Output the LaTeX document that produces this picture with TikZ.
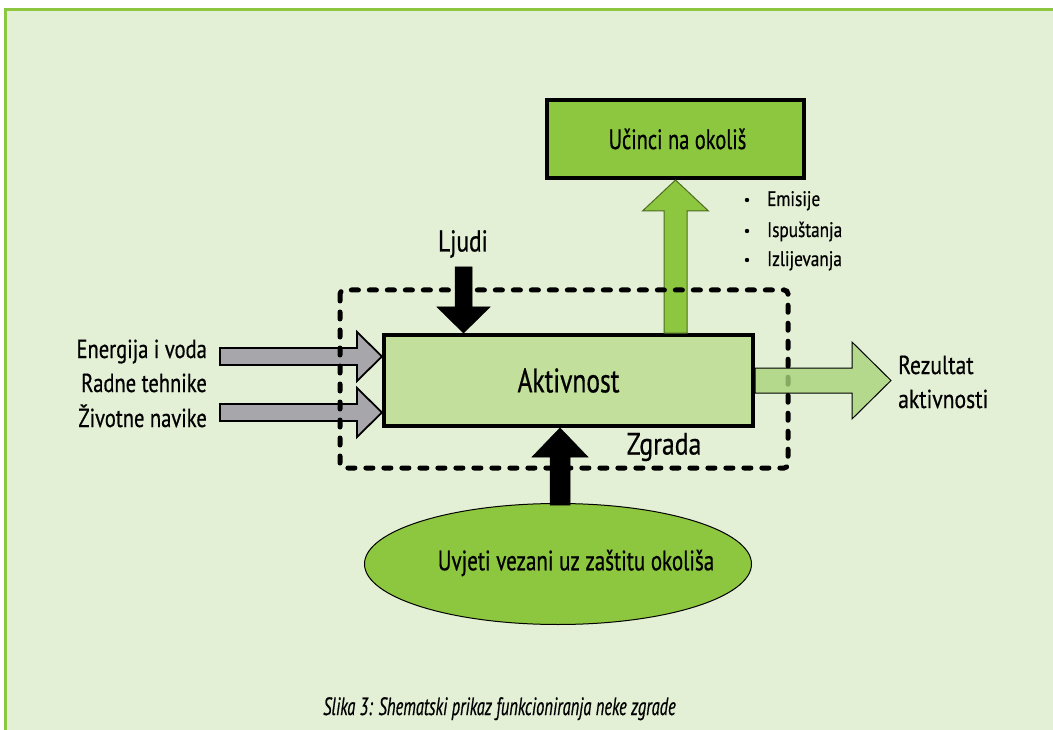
\documentclass[tikz,border=0pt]{standalone}
\usepackage{fontspec}
\setmainfont{PT Sans}[FakeStretch=0.78]
\usetikzlibrary{calc,shapes.geometric}
\definecolor{bgfill}{HTML}{E3F0D5}
\definecolor{bordergreen}{HTML}{8DC63F}
\definecolor{midgreen}{HTML}{8DC63F}
\definecolor{lightgreen}{HTML}{C2DF9B}
\definecolor{arrowgreen}{HTML}{AAD47A}
\definecolor{olive}{HTML}{4F6B22}
\definecolor{arrowgray}{HTML}{A7A7AB}
\newcommand\fs[2]{\fontspec{PT Sans}[FakeStretch=#2,FakeBold=0.6]\fontsize{#1}{#1}\selectfont}
\newcommand\blockarrow[6]{% style, tail, tip, shaft half width, head half width, head length
  \coordinate (ba@h) at ($(#3)!#6!(#2)$);
  \draw[#1] ($(#2)!#4!90:(#3)$) -- ($(ba@h)!#4!90:(#3)$) -- ($(ba@h)!#5!90:(#3)$) -- (#3)
    -- ($(ba@h)!#5!-90:(#3)$) -- ($(ba@h)!#4!-90:(#3)$) -- ($(#2)!#4!-90:(#3)$) -- cycle;
}
\tikzset{
  box/.style={draw=black, line width=4pt, rectangle, inner sep=0pt},
  lbl/.style={inner sep=0pt, text=black},
  blackarrow/.style={fill=black, draw=black, line width=0.5pt, line join=miter},
  grayarrow/.style={fill=arrowgray, draw=black, line width=1.8pt, line join=miter},
  greenarrow/.style={fill=midgreen, draw=olive, line width=1pt, line join=miter},
  resarrow/.style={fill=arrowgreen, fill opacity=0.8, draw=black, line width=1pt, line join=miter},
}
\begin{document}
\begin{tikzpicture}[x=1pt, y=-1pt]
\useasboundingbox (0,0) rectangle (1053,730);
\fill[white] (0,0) rectangle (1053,730);
\fill[bgfill] (5.5,9.75) rectangle (1070,745);
\draw[bordergreen, line width=3pt] (5.5,745) -- (5.5,9.75) -- (1070,9.75);

% nodes
\node[box, fill=midgreen, minimum width=257pt, minimum height=78pt] (uc) at (675.5,139) {};
\node[lbl, font=\fs{28}{0.73}] at ($(uc.center)+(2,0)$) {Učinci na okoliš};
\node[box, fill=lightgreen, minimum width=369pt, minimum height=91pt] (akt) at (568.5,380.5) {};
\node[lbl, font=\fs{34}{0.75}] at (akt.center) {Aktivnost};
\node[ellipse, draw=black, line width=1pt, fill=midgreen, minimum width=387pt, minimum height=121pt, inner sep=0pt] (ell) at (558,564) {};
\node[lbl, font=\fs{28}{0.75}] (elltxt) at (576,563) {Uvjeti vezani uz zaštitu okoliša};

\node[lbl, font=\fs{30}{0.78}] (ljudi) at (463,244) {Ljudi};
\node[lbl, font=\fs{31}{0.83}] (zgrada) at (664,447) {Zgrada};

% left labels
\node[lbl, anchor=base east, font=\fs{26}{0.79}] (l1) at (207,358) {Energija i voda};
\node[lbl, anchor=base east, font=\fs{26}{0.79}] (l2) at (207,392) {Radne tehnike};
\node[lbl, anchor=base east, font=\fs{26}{0.79}] (l3) at (207,427) {Životne navike};

% result label
\node[lbl, anchor=base west, font=\fs{26}{0.83}] (r1) at (898,374) {Rezultat};
\node[lbl, anchor=base west, font=\fs{26}{0.83}] (r2) at (898,408) {aktivnosti};

% bullets
\foreach \t/\yy [count=\i] in {Emisije/206, Ispuštanja/237, Izlijevanja/266}{
  \node[lbl, anchor=base west, font=\fs{21}{0.82}] (b\i) at (767,\yy) {\t};
  \fill (747,\yy-6) circle (2.2pt);
}

% arrow endpoints
\coordinate (uptail) at (akt.north -| uc.south);
\coordinate (ljtail) at (463.5,267);
\coordinate (ljtip) at (akt.north -| ljtail);
\coordinate (g1tail) at (220,356.5);
\coordinate (g1tip) at (akt.west |- g1tail);
\coordinate (g2tail) at (220,412.5);
\coordinate (g2tip) at (akt.west |- g2tail);
\coordinate (btail) at (560,505);
\coordinate (btip) at (akt.south -| btail);
\coordinate (rtip) at (891,380.5);

\blockarrow{greenarrow}{uptail}{uc.south}{11.5pt}{33pt}{31pt}
\blockarrow{grayarrow}{g1tail}{g1tip}{8.5pt}{24.5pt}{25pt}
\blockarrow{grayarrow}{g2tail}{g2tip}{8.5pt}{24.5pt}{25pt}
\blockarrow{blackarrow}{ljtail}{ljtip}{8.5pt}{26.5pt}{26pt}
\blockarrow{blackarrow}{btail}{btip}{10pt}{28pt}{29pt}

% building boundary
\draw[line width=5pt, line cap=round, dash pattern=on 7pt off 11pt, rounded corners=4pt] (340,290) rectangle (788,468);

\blockarrow{resarrow}{akt.east}{rtip}{12.5pt}{38.5pt}{39pt}

% caption
\node[lbl, anchor=base west, font=\fs{25}{0.66}\itshape] (cap) at (323,715) {Slika 3: Shematski prikaz funkcioniranja neke zgrade};
\end{tikzpicture}
\end{document}
